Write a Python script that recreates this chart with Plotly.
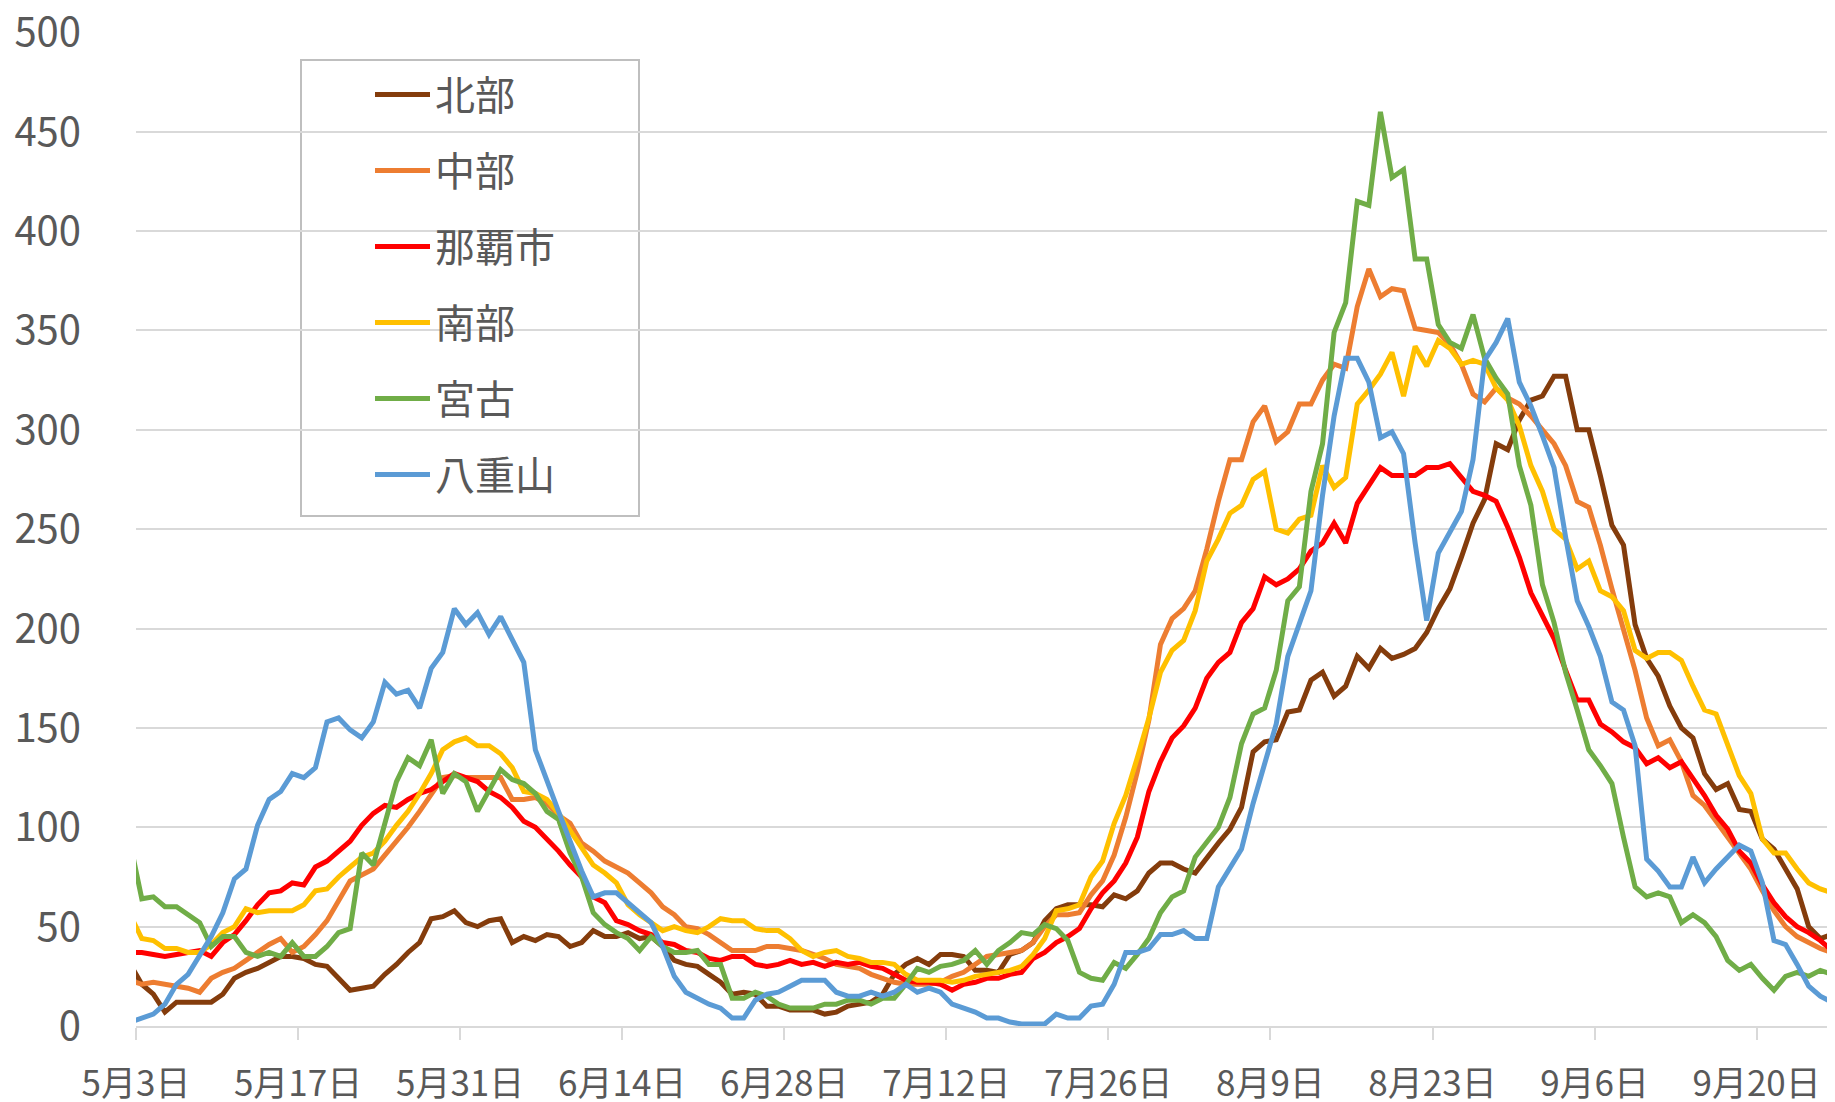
import pandas as pd
import plotly.graph_objects as go

# daily values, 5/2 .. 9/26 (5/2 only sets the clipped start at the left edge)
dates = pd.date_range("2021-05-02 12:00", periods=148, freq="D")

names = ["北部", "中部", "那覇市", "南部", "宮古", "八重山"]
colors = ["#843C0C", "#ED7D31", "#FF0000", "#FFC000", "#70AD47", "#5B9BD5"]

hokubu = [31,
    21, 16, 7, 12, 12, 12, 12, 16, 24, 27,
    29, 32, 35, 35, 34, 31, 30, 24, 18, 19,
    20, 26, 31, 37, 42, 54, 55, 58, 52, 50,
    53, 54, 42, 45, 43, 46, 45, 40, 42, 48,
    45, 45, 47, 44, 45, 40, 33, 31, 30, 26,
    22, 16, 17, 16, 10, 10, 8, 8, 8, 6,
    7, 10, 11, 12, 16, 26, 31, 34, 31, 36,
    36, 35, 28, 28, 27, 36, 38, 42, 53, 59,
    61, 61, 61, 60, 66, 64, 68, 77, 82, 82,
    79, 77, 85, 92, 99, 110, 138, 143, 144, 158,
    159, 174, 178, 166, 171, 186, 180, 190, 185, 187,
    190, 198, 210, 220, 236, 253, 265, 293, 290, 305,
    315, 317, 327, 327, 300, 300, 277, 252, 242, 202,
    185, 176, 161, 150, 145, 127, 119, 122, 109, 108,
    94, 89, 79, 69, 50, 44, 46]

chubu = [23,
    21, 22, 21, 20, 19, 17, 24, 27, 29, 33,
    37, 41, 44, 37, 40, 46, 53, 63, 73, 76,
    79, 86, 93, 100, 108, 117, 125, 126, 125, 125,
    125, 125, 114, 114, 115, 112, 106, 102, 92, 88,
    83, 80, 77, 72, 67, 60, 56, 50, 49, 46,
    42, 38, 38, 38, 40, 40, 39, 38, 36, 34,
    31, 30, 29, 26, 24, 22, 21, 21, 21, 22,
    25, 27, 31, 35, 36, 37, 38, 42, 50, 56,
    56, 57, 66, 73, 86, 105, 128, 154, 192, 205,
    210, 219, 240, 264, 285, 285, 304, 312, 294, 299,
    313, 313, 325, 333, 331, 362, 381, 367, 371, 370,
    351, 350, 349, 343, 333, 318, 314, 321, 316, 313,
    307, 300, 293, 282, 264, 261, 242, 220, 199, 179,
    155, 141, 144, 133, 116, 111, 103, 95, 87, 79,
    68, 58, 50, 45, 42, 39, 37]

naha = [37,
    37, 36, 35, 36, 37, 38, 35, 42, 46, 53,
    61, 67, 68, 72, 71, 80, 83, 88, 93, 101,
    107, 111, 110, 114, 117, 119, 123, 127, 125, 123,
    118, 115, 110, 103, 100, 94, 88, 81, 75, 65,
    62, 53, 51, 48, 46, 42, 41, 38, 37, 34,
    33, 35, 35, 31, 30, 31, 33, 31, 32, 30,
    32, 31, 32, 30, 29, 26, 23, 22, 22, 21,
    18, 21, 22, 24, 24, 26, 27, 34, 37, 42,
    45, 49, 59, 67, 73, 82, 95, 118, 133, 145,
    151, 160, 175, 183, 188, 203, 210, 226, 222, 225,
    230, 239, 243, 253, 243, 263, 272, 281, 277, 277,
    277, 281, 281, 283, 276, 269, 267, 264, 251, 236,
    218, 207, 195, 179, 164, 164, 152, 148, 143, 140,
    132, 135, 130, 133, 125, 116, 106, 99, 88, 82,
    71, 62, 55, 50, 47, 43, 38]

nanbu = [56,
    44, 43, 39, 39, 37, 37, 41, 47, 50, 59,
    57, 58, 58, 58, 61, 68, 69, 75, 80, 85,
    87, 93, 101, 108, 117, 127, 139, 143, 145, 141,
    141, 137, 130, 118, 117, 114, 107, 98, 90, 81,
    77, 72, 61, 56, 52, 48, 50, 48, 47, 50,
    54, 53, 53, 49, 48, 48, 44, 38, 35, 37,
    38, 35, 34, 32, 32, 31, 26, 23, 23, 23,
    22, 23, 25, 26, 27, 28, 30, 36, 44, 58,
    59, 61, 75, 83, 102, 116, 135, 155, 178, 189,
    194, 209, 234, 245, 258, 262, 275, 279, 250, 248,
    255, 257, 282, 271, 276, 313, 320, 328, 339, 317,
    342, 332, 345, 341, 333, 335, 333, 321, 315, 302,
    282, 269, 250, 245, 230, 234, 219, 216, 209, 189,
    185, 188, 188, 184, 171, 159, 157, 142, 126, 117,
    94, 87, 87, 79, 72, 69, 67]

miyako = [92,
    64, 65, 60, 60, 56, 52, 40, 45, 45, 37,
    35, 37, 35, 42, 35, 35, 40, 47, 49, 87,
    81, 102, 123, 135, 131, 144, 117, 127, 123, 108,
    118, 129, 124, 122, 117, 108, 104, 87, 75, 57,
    51, 47, 44, 38, 45, 40, 37, 37, 38, 31,
    31, 14, 14, 17, 15, 11, 9, 9, 9, 11,
    11, 13, 13, 11, 14, 14, 21, 29, 27, 30,
    31, 33, 38, 31, 38, 42, 47, 46, 51, 49,
    43, 27, 24, 23, 32, 29, 36, 44, 57, 65,
    68, 85, 93, 100, 115, 142, 157, 160, 179, 214,
    221, 269, 293, 349, 364, 415, 413, 460, 427, 431,
    386, 386, 353, 344, 341, 358, 336, 326, 318, 282,
    262, 222, 203, 178, 159, 139, 131, 122, 95, 70,
    65, 67, 65, 52, 56, 52, 45, 33, 28, 31,
    24, 18, 25, 27, 25, 28, 26]

yaeyama = [2,
    4, 6, 11, 21, 26, 36, 45, 57, 74, 79,
    101, 114, 118, 127, 125, 130, 153, 155, 149, 145,
    153, 173, 167, 169, 160, 180, 188, 210, 202, 208,
    197, 206, 195, 183, 139, 123, 108, 93, 78, 65,
    67, 67, 62, 57, 52, 40, 25, 17, 14, 11,
    9, 4, 4, 13, 16, 17, 20, 23, 23, 23,
    17, 15, 15, 17, 15, 17, 21, 17, 19, 17,
    11, 9, 7, 4, 4, 2, 1, 1, 1, 6,
    4, 4, 10, 11, 21, 37, 37, 39, 46, 46,
    48, 44, 44, 70, 80, 89, 112, 132, 152, 186,
    202, 219, 267, 307, 336, 336, 324, 296, 299, 288,
    243, 204, 238, 248, 259, 285, 335, 344, 356, 324,
    312, 297, 281, 246, 214, 201, 186, 163, 159, 141,
    84, 78, 70, 70, 85, 72, 79, 85, 91, 88,
    72, 43, 41, 31, 20, 15, 12]

series = [hokubu, chubu, naha, nanbu, miyako, yaeyama]
for s in series:
    assert len(s) == len(dates), len(s)

TEXT = "#595959"
GRID = "#D9D9D9"
FONT = "Noto Sans CJK JP"

fig = go.Figure()
for i, (name, vals, col) in enumerate(zip(names, series, colors)):
    fig.add_trace(go.Scatter(
        x=dates, y=vals, name=name, mode="lines",
        line=dict(color=col, width=5),
        legendgroup=f"g{i}",
    ))

# the page body adds an 8 px offset; the figure fills the rest of the window
OFF = 8
W, H = 1835 - OFF, 1102 - OFF
L, R, T, B = 136 - OFF, 0, 32 - OFF, 76
pw, ph = W - L - R, H - T - B

def px_x(xw):  # window pixel -> paper x
    return (xw - OFF - L) / pw

def px_y(yw):  # window pixel -> paper y
    return (H - B - (yw - OFF)) / ph

fig.update_layout(
    width=W, height=H,
    margin=dict(l=L, r=R, t=T, b=B, autoexpand=False),
    paper_bgcolor="white", plot_bgcolor="white",
    font=dict(family=FONT, color=TEXT),
    showlegend=True,
    legend=dict(
        x=px_x(370), y=px_y(62), xanchor="left", yanchor="top",
        bgcolor="rgba(0,0,0,0)", borderwidth=0,
        font=dict(family=FONT, size=40, color=TEXT),
        tracegroupgap=21, traceorder="grouped",
        itemwidth=55,
    ),
    shapes=[dict(
        type="rect", xref="paper", yref="paper",
        x0=px_x(301), x1=px_x(639), y0=px_y(516), y1=px_y(60),
        line=dict(color="#BFBFBF", width=2), fillcolor="white",
        layer="between",
    )],
)

fig.update_xaxes(
    type="date", automargin=False,
    range=["2021-05-03 00:00", "2021-09-26 18:29"],
    tick0="2021-05-03", dtick=14 * 86400000,
    tickformat="%-m月%-d日",
    showgrid=False,
    showline=True, linecolor=GRID, linewidth=2,
    ticks="outside", tickcolor=GRID, ticklen=12, tickwidth=2,
    tickfont=dict(family=FONT, size=35, color=TEXT),
    ticklabelstandoff=14,
    zeroline=False,
)
fig.update_yaxes(
    automargin=False,
    range=[0, 500.2], dtick=50, tick0=0,
    showgrid=True, gridcolor=GRID, gridwidth=2,
    showline=False, zeroline=False, ticks="",
    tickfont=dict(family=FONT, size=40, color=TEXT),
    ticklabelstandoff=54, ticklabeloverflow="allow",
)

fig.write_html("out.html")
